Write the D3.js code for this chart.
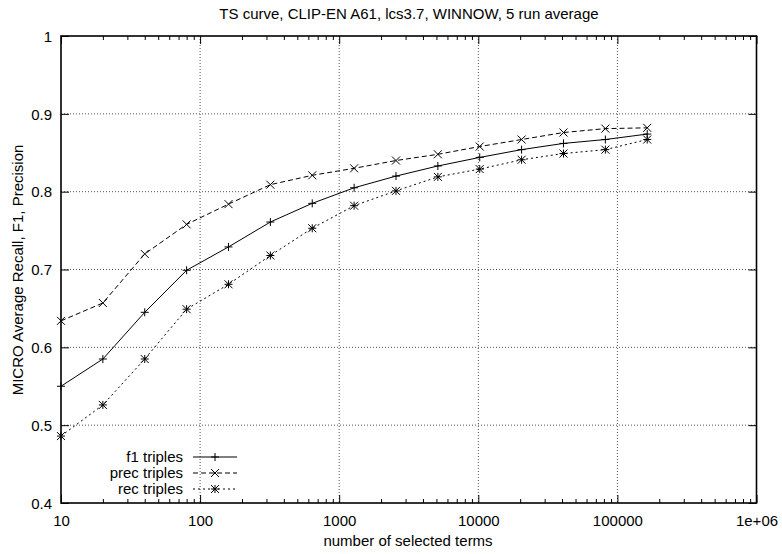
<!DOCTYPE html>
<html><head><meta charset="utf-8">
<script src="https://cdn.jsdelivr.net/npm/d3@7"></script>
<style>body{margin:0;background:#fff}text{font-family:"Liberation Sans",Arial,sans-serif;fill:#000}</style>
</head><body><svg id="c" width="782" height="554"></svg>
<script>
const xValues = [10,20,40,80,160,320,640,1280,2560,5120,10240,20480,40960,81920,163840];
const f1Values   = [0.550,0.585,0.645,0.699,0.729,0.761,0.785,0.805,0.820,0.833,0.844,0.854,0.862,0.867,0.874];
const precValues = [0.634,0.657,0.720,0.758,0.784,0.809,0.821,0.830,0.840,0.848,0.858,0.867,0.876,0.881,0.882];
const recValues  = [0.486,0.526,0.585,0.649,0.681,0.718,0.753,0.782,0.801,0.819,0.829,0.841,0.849,0.854,0.867];
const seriesNames = ["f1 triples","prec triples","rec triples"];
const xTicks = [10,100,1000,10000,100000,1000000];
const xTickLabels = ["10","100","1000","10000","100000","1e+06"];
const yTicks = [0.4,0.5,0.6,0.7,0.8,0.9,1];
const yTickLabels = ["0.4","0.5","0.6","0.7","0.8","0.9","1"];
const titleText = "TS curve, CLIP-EN A61, lcs3.7, WINNOW, 5 run average";
const xLabel = "number of selected terms";
const yLabel = "MICRO Average Recall, F1, Precision";

const FS = 15;
const L=61, R=756.5, T=36, B=503;
const svg = d3.select("#c");
const x = d3.scaleLog().domain([10,1e6]).range([L,R]);
const y = d3.scaleLinear().domain([0.4,1]).range([B,T]);

// grid
const g = svg.append("g");
xTicks.slice(1,-1).forEach(v=>{
  g.append("line").attr("x1",x(v)).attr("x2",x(v)).attr("y1",T).attr("y2",B)
   .attr("stroke","#555").attr("stroke-width",1).attr("stroke-dasharray","1,2");
});
yTicks.slice(1,-1).forEach(v=>{
  g.append("line").attr("x1",L).attr("x2",R).attr("y1",y(v)).attr("y2",y(v))
   .attr("stroke","#555").attr("stroke-width",1).attr("stroke-dasharray","1,2");
});

// axes with d3 (inner ticks)
const minor = [];
for (let d=10; d<1e6; d*=10) for (let k=2;k<10;k++) minor.push(d*k);
const axB = d3.axisBottom(x).tickValues(xTicks).tickFormat((d,i)=>xTickLabels[i]).tickSizeInner(-8).tickSizeOuter(0);
const axL = d3.axisLeft(y).tickValues(yTicks).tickFormat((d,i)=>yTickLabels[i]).tickSizeInner(-8).tickSizeOuter(0).tickPadding(9);
const gb = svg.append("g").attr("transform",`translate(0,${B})`).call(axB);
const gl = svg.append("g").attr("transform",`translate(${L},0)`).call(axL);
[gb,gl].forEach(a=>{a.select(".domain").remove(); a.selectAll("text").attr("font-size",FS).attr("font-family","Liberation Sans, Arial, sans-serif").attr("fill","#000"); a.selectAll("line").attr("stroke","#000");});
gb.selectAll("text").attr("y",23).attr("dy","0");
gl.selectAll("text").attr("dy","0.35em");
svg.append("g").attr("transform",`translate(0,${T})`).call(d3.axisTop(x).tickValues(xTicks).tickFormat("").tickSizeInner(-8).tickSizeOuter(0)).call(a=>{a.select(".domain").remove();a.selectAll("line").attr("stroke","#000");});
svg.append("g").attr("transform",`translate(${R},0)`).call(d3.axisRight(y).tickValues(yTicks).tickFormat("").tickSizeInner(-8).tickSizeOuter(0)).call(a=>{a.select(".domain").remove();a.selectAll("line").attr("stroke","#000");});
svg.append("g").attr("transform",`translate(0,${B})`).call(d3.axisBottom(x).tickValues(minor).tickFormat("").tickSizeInner(-4).tickSizeOuter(0)).call(a=>{a.select(".domain").remove();a.selectAll("line").attr("stroke","#000");});
svg.append("g").attr("transform",`translate(0,${T})`).call(d3.axisTop(x).tickValues(minor).tickFormat("").tickSizeInner(-4).tickSizeOuter(0)).call(a=>{a.select(".domain").remove();a.selectAll("line").attr("stroke","#000");});

// border
svg.append("rect").attr("x",L).attr("y",T).attr("width",R-L).attr("height",B-T)
  .attr("fill","none").attr("stroke","#000").attr("stroke-width",1.6);

// texts
svg.append("text").attr("x",409).attr("y",19).attr("text-anchor","middle").attr("font-size",FS).text(titleText);
svg.append("text").attr("x",408).attr("y",546).attr("text-anchor","middle").attr("font-size",FS).text(xLabel);
svg.append("text").attr("transform","translate(23,270) rotate(-90)").attr("text-anchor","middle").attr("font-size",FS).text(yLabel);

// series
const dashes = [null,"5,3","2,3"];
const data = [f1Values,precValues,recValues];
const line = d3.line().x(d=>x(d[0])).y(d=>y(d[1]));
function marker(sel, type, cx, cy){
  const s=4;
  const p = sel.append("g").attr("stroke","#000").attr("stroke-width",1).attr("fill","none");
  if (type===0||type===2){
    p.append("line").attr("x1",cx-s).attr("x2",cx+s).attr("y1",cy).attr("y2",cy);
    p.append("line").attr("x1",cx).attr("x2",cx).attr("y1",cy-s).attr("y2",cy+s);
  }
  if (type===1||type===2){
    p.append("line").attr("x1",cx-s).attr("x2",cx+s).attr("y1",cy-s).attr("y2",cy+s);
    p.append("line").attr("x1",cx-s).attr("x2",cx+s).attr("y1",cy+s).attr("y2",cy-s);
  }
}
data.forEach((vals,i)=>{
  const pts = xValues.map((xv,j)=>[xv,vals[j]]);
  svg.append("path").attr("d",line(pts)).attr("fill","none").attr("stroke","#000").attr("stroke-width",1)
    .attr("stroke-dasharray",dashes[i]);
  pts.forEach(p=>marker(svg,i,x(p[0]),y(p[1])));
});

// legend
const legY = [457,473,489];
seriesNames.forEach((n,i)=>{
  svg.append("text").attr("x",183).attr("y",legY[i]).attr("dy","0.35em").attr("text-anchor","end").attr("font-size",FS).text(n);
  svg.append("line").attr("x1",193).attr("x2",237).attr("y1",legY[i]).attr("y2",legY[i]).attr("stroke","#000").attr("stroke-width",1).attr("stroke-dasharray",dashes[i]);
  marker(svg,i,215,legY[i]);
});
</script></body></html>
